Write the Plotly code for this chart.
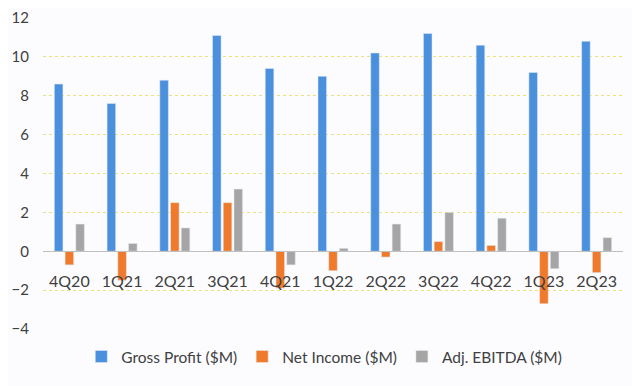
import plotly.graph_objects as go

quarters = ["4Q20", "1Q21", "2Q21", "3Q21", "4Q21", "1Q22", "2Q22", "3Q22", "4Q22", "1Q23", "2Q23"]
gross_profit = [8.6, 7.6, 8.8, 11.1, 9.4, 9.0, 10.2, 11.2, 10.6, 9.2, 10.8]
net_income = [-0.7, -1.5, 2.5, 2.5, -1.9, -1.0, -0.3, 0.5, 0.3, -2.7, -1.1]
adj_ebitda = [1.4, 0.4, 1.2, 3.2, -0.7, 0.15, 1.4, 2.0, 1.7, -0.9, 0.7]
y_ticks = [-4, -2, 0, 2, 4, 6, 8, 10, 12]

FONT = "Lato"
TXT = "#404040"

fig = go.Figure()
fig.add_trace(go.Bar(x=quarters, y=gross_profit, name="Gross Profit ($M)", marker_color="#4A90DC"))
fig.add_trace(go.Bar(x=quarters, y=net_income, name="Net Income ($M)", marker_color="#F07A2C"))
fig.add_trace(go.Bar(x=quarters, y=adj_ebitda, name="Adj. EBITDA ($M)", marker_color="#A5A5A5"))

fig.update_layout(
    width=632, height=378,
    margin=dict(l=35, r=17, t=10, b=57, autoexpand=False),
    paper_bgcolor="#FCFCFE",
    plot_bgcolor="#FCFCFE",
    barmode="group",
    bargap=0.39,
    bargroupgap=0.2,
    font=dict(family=FONT, size=16, color=TXT),
    showlegend=True,
    legend=dict(orientation="h", x=0.485, xanchor="center", y=-0.035, yanchor="top",
                font=dict(size=15.5, color=TXT), bgcolor="rgba(0,0,0,0)",
                itemwidth=30),
    xaxis=dict(
        anchor="free", position=0.25, automargin=False,
        showline=True, linecolor="#BFBFBF", linewidth=1,
        showgrid=False, ticks="", tickfont=dict(size=16, color=TXT),
        ticklabelstandoff=16,
    ),
    yaxis=dict(
        range=[-4, 12], tickvals=y_ticks, automargin=False,
        showgrid=True, gridcolor="#EAE27A", griddash="dot", gridwidth=1,
        zeroline=False, showline=False, ticks="",
        tickfont=dict(size=15, color=TXT),
        ticklabeloverflow="allow", ticklabelstandoff=13,
    ),
)

fig.write_html("out.html")
